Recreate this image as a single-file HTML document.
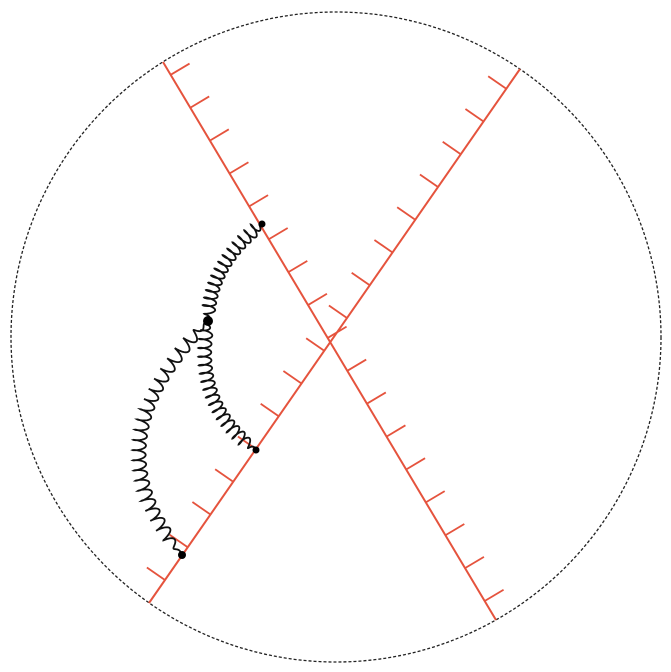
<!DOCTYPE html>
<html><head><meta charset="utf-8"><style>
html,body{margin:0;padding:0;background:#fff;width:671px;height:672px;overflow:hidden}
svg{display:block}
</style></head><body>
<svg id="chart" width="671" height="672" viewBox="0 0 671 672">
<circle cx="336" cy="337" r="325" fill="none" stroke="#222" stroke-width="1.3" stroke-dasharray="3,2"/>
<g id="lines"></g>
<g id="gluons"></g>
<g id="vertices"></g>
</svg>
<script>
// red worldlines: [x1,y1,x2,y2]
const lineEnds = [[163,62,496,620],[149,603,520,69]];
const tickStart = [0.023, 0.043];
const tickEnd = [0.966, 0.963];
const tickCount = [17, 16];
const tickSide = [-1, -1];
// vertices
const vertexX = [262, 208, 256, 182];
const vertexY = [224, 321, 450, 555];
const vertexR = [3.5, 5, 3.5, 4];
// gluons: from, to, control point, coils
const gluonFrom = [0, 1, 1];
const gluonTo = [1, 2, 3];
const gluonCx = [209, 192, 85];
const gluonCy = [264, 405, 442];
const gluonCoils = [15, 18, 24];

const NS = "http://www.w3.org/2000/svg";
const gl = document.getElementById('lines');
lineEnds.forEach((L, k) => {
  const ln = document.createElementNS(NS, 'line');
  ln.setAttribute('x1', L[0]); ln.setAttribute('y1', L[1]);
  ln.setAttribute('x2', L[2]); ln.setAttribute('y2', L[3]);
  ln.setAttribute('stroke', '#e5533d'); ln.setAttribute('stroke-width', '2');
  
  
  gl.appendChild(ln);
  const dx = L[2] - L[0], dy = L[3] - L[1], len = Math.hypot(dx, dy);
  const ux = dx / len, uy = dy / len;
  const nx = -uy * tickSide[k], ny = ux * tickSide[k];
  for (let i = 0; i < tickCount[k]; i++) {
    const t = tickStart[k] + (tickEnd[k] - tickStart[k]) * i / (tickCount[k] - 1);
    const px = L[0] + dx * t, py = L[1] + dy * t;
    const tk = document.createElementNS(NS, 'line');
    tk.setAttribute('x1', px); tk.setAttribute('y1', py);
    tk.setAttribute('x2', px + nx * 22); tk.setAttribute('y2', py + ny * 22);
    tk.setAttribute('stroke', '#e5533d'); tk.setAttribute('stroke-width', '1.8');
    
    
    gl.appendChild(tk);
  }
});
const gg = document.getElementById('gluons');
for (let g = 0; g < gluonFrom.length; g++) {
  const x0 = vertexX[gluonFrom[g]], y0 = vertexY[gluonFrom[g]];
  const x2 = vertexX[gluonTo[g]], y2 = vertexY[gluonTo[g]];
  const cx = gluonCx[g], cy = gluonCy[g];
  const N = gluonCoils[g], steps = N * 24;
  let d = '';
  for (let i = 0; i <= steps; i++) {
    const s = i / steps, a = 1 - s;
    const px = a*a*x0 + 2*a*s*cx + s*s*x2, py = a*a*y0 + 2*a*s*cy + s*s*y2;
    let tx = 2*a*(cx-x0) + 2*s*(x2-cx), ty = 2*a*(cy-y0) + 2*s*(y2-cy);
    const tl = Math.hypot(tx, ty); tx /= tl; ty /= tl;
    const nx = -ty, ny = tx;
    const ph = 2 * Math.PI * N * s;
    const env = Math.min(1, s * 12, (1 - s) * 12);
    const r = 6.5 * env;
    const X = px + nx * r * Math.sin(ph) + tx * r * 0.3 * (Math.cos(ph) - 1);
    const Y = py + ny * r * Math.sin(ph) + ty * r * 0.3 * (Math.cos(ph) - 1);
    d += (i ? 'L' : 'M') + X.toFixed(2) + ',' + Y.toFixed(2);
  }
  const p = document.createElementNS(NS, 'path');
  p.setAttribute('d', d); p.setAttribute('fill', 'none');
  p.setAttribute('stroke', '#111'); p.setAttribute('stroke-width', '1.8');
  
  
  gg.appendChild(p);
}
const gv = document.getElementById('vertices');
for (let i = 0; i < vertexX.length; i++) {
  const c = document.createElementNS(NS, 'circle');
  c.setAttribute('cx', vertexX[i]); c.setAttribute('cy', vertexY[i]); c.setAttribute('r', vertexR[i]);
  c.setAttribute('fill', '#000');
  
  
  gv.appendChild(c);
}
</script>
</body></html>
